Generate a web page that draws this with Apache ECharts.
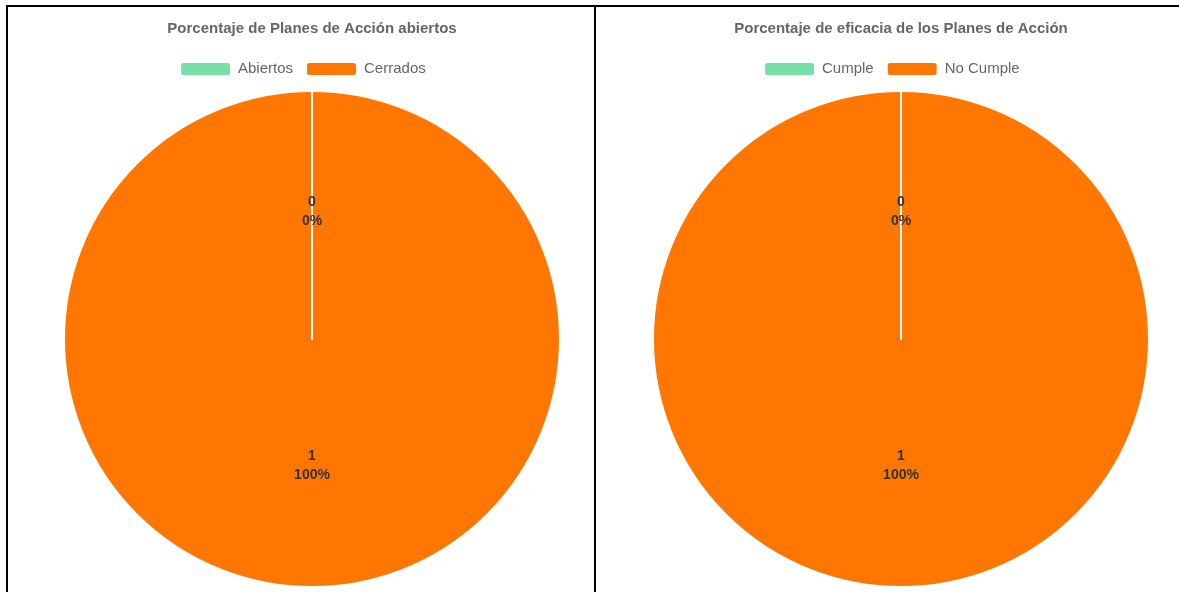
<!DOCTYPE html>
<html>
<head>
<meta charset="utf-8">
<script src="https://cdn.jsdelivr.net/npm/echarts@6/dist/echarts.min.js"></script>
<style>
  html, body { margin: 0; padding: 0; background: #fff; overflow: hidden; }
  .line { position: absolute; background: #000; }
  .chart { position: absolute; top: 8px; height: 584px; }
</style>
</head>
<body>
<div class="line" style="left:6px; top:5px; width:1173px; height:2px;"></div>
<div class="line" style="left:6px; top:5px; width:2px; height:587px;"></div>
<div class="line" style="left:594px; top:5px; width:2px; height:587px;"></div>
<div id="chart-abiertos" class="chart" style="left:16px; width:592px;"></div>
<div id="chart-eficacia" class="chart" style="left:601px; width:600px;"></div>
<script>
const abiertosTitle = 'Porcentaje de Planes de Acción abiertos';
const abiertosNames = ['Abiertos', 'Cerrados'];
const abiertosValues = [0, 1];

const eficaciaTitle = 'Porcentaje de eficacia de los Planes de Acción';
const eficaciaNames = ['Cumple', 'No Cumple'];
const eficaciaValues = [0, 1];

const sliceColors = ['#77e0a6', '#ff7700'];

const FONT = 'Liberation Sans, Arial, sans-serif';

function pieOption(title, names, values, legendLeft) {
  // draw the big slice first so the empty one's white border stays visible on top
  const items = names.map((n, i) => ({
    name: n,
    value: values[i],
    itemStyle: { color: sliceColors[i] }
  })).reverse();

  return {
    animation: false,
    title: {
      text: title,
      left: 'center',
      top: 8,
      textStyle: { color: '#666', fontSize: 15, fontWeight: 'bold', fontFamily: FONT }
    },
    legend: {
      data: names,
      left: legendLeft,
      top: 48,
      itemWidth: 51,
      itemHeight: 14,
      itemGap: 12,
      textStyle: { color: '#666', fontSize: 15, fontFamily: FONT, padding: [0, 0, 0, 2] }
    },
    series: [{
      type: 'pie',
      radius: 248,
      center: ['50%', 331],
      startAngle: 90,
      clockwise: true,
      itemStyle: { borderColor: '#fff', borderWidth: 2 },
      label: {
        show: true,
        position: 'inside',
        formatter: '{c}\n{d}%',
        color: '#333',
        fontWeight: 'bold',
        fontSize: 14,
        lineHeight: 19,
        fontFamily: FONT
      },
      labelLine: { show: false },
      emphasis: { disabled: true },
      data: items
    }]
  };
}

const abiertosChart = echarts.init(document.getElementById('chart-abiertos'));
abiertosChart.setOption(pieOption(abiertosTitle, abiertosNames, abiertosValues, 158));

const eficaciaChart = echarts.init(document.getElementById('chart-eficacia'));
eficaciaChart.setOption(pieOption(eficaciaTitle, eficaciaNames, eficaciaValues, 157));

window.addEventListener('resize', () => {
  abiertosChart.resize();
  eficaciaChart.resize();
});
</script>
</body>
</html>
